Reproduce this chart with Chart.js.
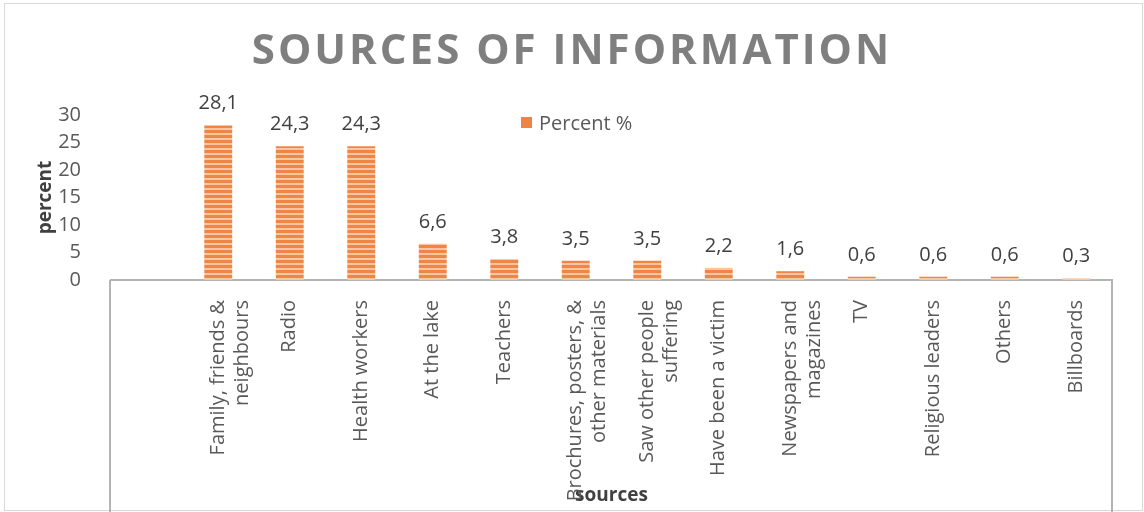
<!DOCTYPE html>
<html>
<head>
<meta charset="utf-8">
<script src="https://cdn.jsdelivr.net/npm/chart.js@4.4.1/dist/chart.umd.min.js"></script>
<style>
  html, body { margin: 0; padding: 0; background: #fff; }
  #wrap { width: 1144px; height: 512px; }
</style>
</head>
<body>
<div id="wrap"><canvas id="sourcesChart" width="1144" height="512"></canvas></div>
<script>
// categories (first slot is left empty, as in the original sheet)
const categories = [
  "",
  ["Family, friends &", "neighbours"],
  "Radio",
  "Health workers",
  "At the lake",
  "Teachers",
  ["Brochures, posters, &", "other materials"],
  ["Saw other people", "suffering"],
  "Have been a victim",
  ["Newspapers and", "magazines"],
  "TV",
  "Religious leaders",
  "Others",
  "Billboards"
];
const percentValues = [null, 28.1, 24.3, 24.3, 6.6, 3.8, 3.5, 3.5, 2.2, 1.6, 0.6, 0.6, 0.6, 0.3];
const yMin = 0;
const yMax = 30;
const yStep = 5;

const chartTitle = "SOURCES OF INFORMATION";
const seriesName = "Percent %";
const FONT = "'Open Sans', sans-serif";

// striped orange fill for the bars
function makeStripes() {
  const c = document.createElement("canvas");
  c.width = 4;
  c.height = 5;
  const g = c.getContext("2d");
  g.fillStyle = "#ef8646";
  g.fillRect(0, 0, 4, 3);
  g.fillStyle = "#f8c6a2";
  g.fillRect(0, 3, 4, 2);
  return g.createPattern(c, "repeat");
}

const ctx = document.getElementById("sourcesChart").getContext("2d");
const stripes = makeStripes();

// frame, title, legend, box under the axis and value labels
const decorations = {
  id: "decorations",
  beforeDraw(chart) {
    const c = chart.ctx;
    c.save();
    c.fillStyle = "#fff";
    c.fillRect(0, 0, chart.width, chart.height);
    c.strokeStyle = "#d9d9d9";
    c.lineWidth = 1;
    c.strokeRect(4.5, 3.5, 1138, 507);
    c.restore();
  },
  afterDraw(chart) {
    const c = chart.ctx;
    const area = chart.chartArea;
    c.save();

    // title
    c.font = "bold 42px " + FONT;
    c.fillStyle = "#7f7f7f";
    c.textAlign = "center";
    c.textBaseline = "middle";
    c.letterSpacing = "3px";
    c.fillText(chartTitle, 572, 52);
    c.letterSpacing = "0px";

    // legend
    const ds = chart.data.datasets[0];
    c.fillStyle = "#ee8443";
    c.fillRect(521, 117, 11, 11);
    c.font = "20px " + FONT;
    c.fillStyle = "#595959";
    c.textAlign = "left";
    c.textBaseline = "middle";
    c.fillText(ds.label, 539, 124);

    // box below the category axis
    c.strokeStyle = "#b4b4b4";
    c.lineWidth = 2;
    c.beginPath();
    c.moveTo(area.left - 1, area.bottom);
    c.lineTo(area.left - 1, chart.height);
    c.moveTo(area.right, area.bottom);
    c.lineTo(area.right, chart.height);
    c.stroke();

    // value labels
    const meta = chart.getDatasetMeta(0);
    c.font = "20px " + FONT;
    c.fillStyle = "#404040";
    c.textAlign = "center";
    c.textBaseline = "alphabetic";
    meta.data.forEach((bar, i) => {
      const v = ds.data[i];
      if (v === null) return;
      c.fillText(v.toFixed(1).replace(".", ","), bar.x, bar.y - 16);
    });
    c.restore();
  }
};

const sourcesChart = new Chart(ctx, {
  type: "bar",
  data: {
    labels: categories,
    datasets: [
      {
        label: seriesName,
        data: percentValues,
        backgroundColor: stripes,
        borderWidth: 0,
        barPercentage: 0.39,
        categoryPercentage: 1
      }
    ]
  },
  options: {
    responsive: false,
    animation: false,
    layout: { padding: { top: 115, left: 0, right: 32, bottom: 0 } },
    plugins: {
      legend: { display: false },
      title: { display: false },
      tooltip: { enabled: false }
    },
    scales: {
      x: {
        grid: { display: false },
        border: { display: true, color: "#b4b4b4", width: 2 },
        ticks: {
          autoSkip: false,
          maxRotation: 90,
          minRotation: 90,
          padding: 12,
          color: "#595959",
          font: { family: FONT, size: 20 }
        },
        title: {
          display: true,
          text: "sources",
          color: "#404040",
          font: { family: FONT, size: 19, weight: "bold" },
          padding: { top: 0, bottom: 5 }
        },
        afterFit(scale) {
          scale.height = 232;
        }
      },
      y: {
        min: yMin,
        max: yMax,
        grid: { display: false },
        border: { display: false },
        ticks: {
          stepSize: yStep,
          autoSkip: false,
          padding: 22,
          color: "#595959",
          font: { family: FONT, size: 20 }
        },
        title: {
          display: true,
          text: "percent",
          color: "#404040",
          font: { family: FONT, size: 19, weight: "bold" },
          padding: { top: 34, bottom: 0 }
        },
        afterFit(scale) {
          scale.width = 111;
        }
      }
    }
  },
  plugins: [decorations]
});
</script>
</body>
</html>
